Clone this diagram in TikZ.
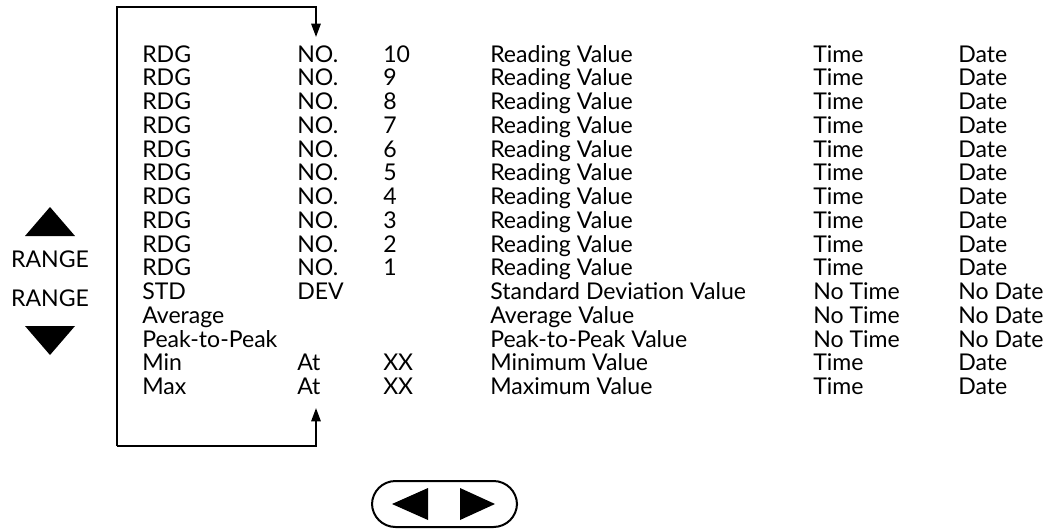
\documentclass[tikz,border=0pt]{standalone}
\usepackage{fontspec}
\setmainfont{Lato}
\usetikzlibrary{arrows.meta}
\begin{document}
\begin{tikzpicture}[x=0.75pt,y=-0.75pt,
  txt/.style={anchor=base west,inner sep=0pt,font=\fontsize{17.3}{20}\selectfont},
  ctxt/.style={anchor=base,inner sep=0pt,font=\fontsize{17.3}{20}\selectfont},
  loopline/.style={line width=1.4pt},
  tip/.style={-{Triangle[length=10pt,width=7pt]}},
  solidtri/.style={fill=black,draw=none}]
\useasboundingbox (0,0) rectangle (1051,529);
% table rows
\foreach \i/\a/\b/\c/\d/\e/\f in {
  1/RDG/NO./10/Reading Value/Time/Date,
  2/RDG/NO./9/Reading Value/Time/Date,
  3/RDG/NO./8/Reading Value/Time/Date,
  4/RDG/NO./7/Reading Value/Time/Date,
  5/RDG/NO./6/Reading Value/Time/Date,
  6/RDG/NO./5/Reading Value/Time/Date,
  7/RDG/NO./4/Reading Value/Time/Date,
  8/RDG/NO./3/Reading Value/Time/Date,
  9/RDG/NO./2/Reading Value/Time/Date,
  10/RDG/NO./1/Reading Value/Time/Date,
  11/STD/DEV//Standard Deviation Value/No Time/No Date,
  12/Average///Average Value/No Time/No Date,
  13/Peak-to-Peak///Peak-to-Peak Value/No Time/No Date,
  14/Min/At/XX/Minimum Value/Time/Date,
  15/Max/At/XX/Maximum Value/Time/Date}{
  \pgfmathsetmacro{\yy}{62+(\i-1)*23.75}
  \node[txt] (a\i) at (142,\yy) {\a};
  \node[txt] (b\i) at (297,\yy) {\b};
  \node[txt] (c\i) at (383,\yy) {\c};
  \node[txt] (d\i) at (490,\yy) {\d};
  \node[txt] (e\i) at (813,\yy) {\e};
  \node[txt] (f\i) at (958,\yy) {\f};
}
% loop connector
\coordinate (topin) at (316,37);
\coordinate (botin) at (316,408);
\coordinate (tl) at (117,7);
\coordinate (bl) at (117,446);
\draw[loopline,tip] (bl) -- (tl) -| (topin);
\draw[loopline,tip] (tl |- bl) -| (botin);
% RANGE keys
\node[ctxt] (r1) at (50,267) {RANGE};
\node[ctxt] (r2) at (50,306) {RANGE};
\fill[solidtri] (25,236) -- (75,236) -- (50,207) -- cycle;
\fill[solidtri] (25,326) -- (75,326) -- (50,355) -- cycle;
% arrow key button
\draw[line width=1.5pt,rounded corners=23.5*0.75pt] (372,481) rectangle (517,527);
\fill[solidtri] (392,504) -- (428,488) -- (428,520) -- cycle;
\fill[solidtri] (495,504) -- (460,488) -- (460,520) -- cycle;
\end{tikzpicture}
\end{document}
